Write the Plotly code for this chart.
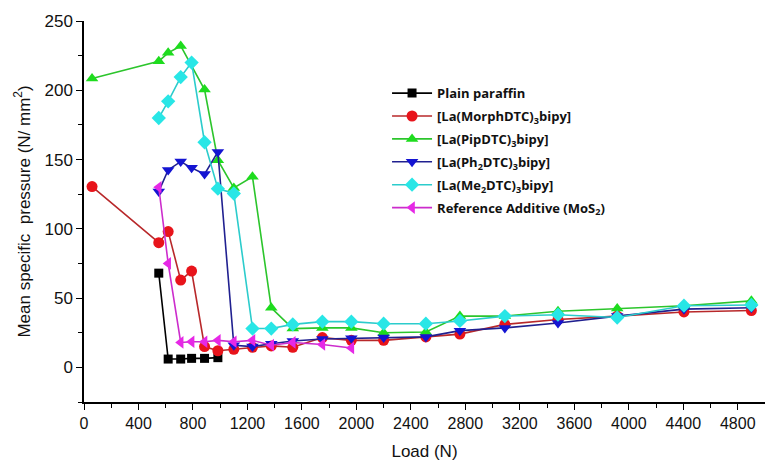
import plotly.graph_objects as go

# Data (Load in N, mean specific pressure in N/mm^2)
loads_plain = [549, 618, 710, 790, 885, 983]
plain = [68, 6, 6, 6.5, 6.5, 7]

loads_morph = [59, 549, 618, 710, 790, 885, 983, 1100, 1237, 1375, 1533, 1750, 1963, 2200, 2510, 2760, 3090, 3480, 3915, 4405, 4900]
morph = [130.5, 90, 98, 63, 69.5, 15, 12, 13, 14.5, 15.5, 14.5, 21.5, 19.5, 19.5, 22, 24, 31, 34.5, 37, 40, 41]

loads_pip = [59, 549, 618, 710, 885, 983, 1100, 1237, 1375, 1533, 1750, 1963, 2200, 2510, 2760, 3090, 3480, 3915, 4405, 4900]
pip = [208.5, 221, 227, 232, 200.5, 149.5, 129.5, 137.5, 43, 28, 28.5, 28.5, 25, 25.5, 37, 37, 40.5, 42.5, 44.5, 48]

loads_ph2 = [549, 618, 710, 790, 885, 983, 1100, 1237, 1375, 1533, 1750, 1963, 2200, 2510, 2760, 3090, 3480, 3915, 4405, 4900]
ph2 = [127, 142.5, 148.5, 144, 139.5, 155.5, 16, 15, 17, 19, 20.5, 21, 21.5, 22, 26.5, 28.5, 32, 37, 42, 43]

loads_me2 = [549, 618, 710, 790, 885, 983, 1100, 1237, 1375, 1533, 1750, 1963, 2200, 2510, 2760, 3090, 3480, 3915, 4405, 4900]
me2 = [180, 192, 209.5, 220, 162.5, 129, 125.5, 28, 28, 31, 33, 33, 31.5, 31.5, 33.5, 37, 38, 36, 44.5, 45]

loads_mos2 = [549, 618, 710, 790, 885, 983, 1100, 1237, 1375, 1533, 1750, 1963]
mos2 = [130, 75, 18, 18.5, 18.5, 19.5, 18.5, 19.5, 16, 18, 16.5, 14]

x_ticks = list(range(0, 4801, 400))
y_ticks = list(range(0, 251, 50))

series = [
    ("Plain paraffin", loads_plain, plain, "square", "#000000", "#000000"),
    ("[La(MorphDTC)<sub>3</sub>bipy]", loads_morph, morph, "circle", "#e8141b", "#b8282a"),
    ("[La(PipDTC)<sub>3</sub>bipy]", loads_pip, pip, "triangle-up", "#1edc1e", "#2cc52c"),
    ("[La(Ph<sub>2</sub>DTC)<sub>3</sub>bipy]", loads_ph2, ph2, "triangle-down", "#1414d2", "#202090"),
    ("[La(Me<sub>2</sub>DTC)<sub>3</sub>bipy]", loads_me2, me2, "diamond", "#28e6e6", "#2ccccc"),
    ("Reference Additive (MoS<sub>2</sub>)", loads_mos2, mos2, "triangle-left", "#e628e6", "#cc2ccc"),
]

fig = go.Figure()
for i, (name, xs, ys, sym, mcol, lcol) in enumerate(series):
    fig.add_trace(go.Scatter(
        x=xs, y=ys, name=name, mode="lines+markers", legendgroup=f"g{i}",
        line=dict(color=lcol, width=1.6),
        marker=dict(symbol=sym, color=mcol, size=11 if sym != "square" else 9,
                    line=dict(width=0)),
    ))

fig.update_layout(
    width=769, height=463,
    margin=dict(l=84, r=4, t=21, b=61),
    paper_bgcolor="white", plot_bgcolor="white",
    showlegend=True,
    legend=dict(x=0.445, y=0.85, xanchor="left", yanchor="top",
                bgcolor="rgba(0,0,0,0)", tracegroupgap=3,
                font=dict(family="Open Sans", size=13, color="#111", weight="bold"),
                itemwidth=40),
    font=dict(family="Liberation Sans, Arial, sans-serif", color="#111"),
)
fig.update_xaxes(
    range=[0, 5000], tickvals=x_ticks, ticktext=[str(v) for v in x_ticks],
    showline=True, linecolor="black", linewidth=1.5, mirror=False,
    ticks="outside", ticklen=6, tickwidth=1.3, tickcolor="black",
    minor=dict(tickvals=list(range(200, 5000, 400)), ticks="outside", ticklen=4, tickcolor="black", tickwidth=1.2),
    showgrid=False, zeroline=False,
    tickfont=dict(family="Liberation Sans Narrow, Arial Narrow, Liberation Sans, sans-serif", size=16, color="#111"),
    title=dict(text="Load (N)", font=dict(family="Liberation Sans Narrow, Arial Narrow, Liberation Sans, sans-serif", size=17, color="#111"), standoff=14),
)
fig.update_yaxes(
    range=[-25, 250], tickvals=y_ticks,
    showline=True, linecolor="black", linewidth=1.5, mirror=False,
    ticks="outside", ticklen=6, tickwidth=1.3, tickcolor="black",
    minor=dict(tickvals=[-25, 25, 75, 125, 175, 225], ticks="outside", ticklen=4, tickcolor="black", tickwidth=1.2),
    showgrid=False, zeroline=False,
    tickfont=dict(family="Liberation Sans, Arial, sans-serif", size=17, color="#111"),
    title=dict(text="Mean specific  pressure (N/ mm<sup>2</sup>)", font=dict(family="Liberation Sans, Arial, sans-serif", size=17, color="#111"), standoff=10),
)

fig.write_html("out.html")
